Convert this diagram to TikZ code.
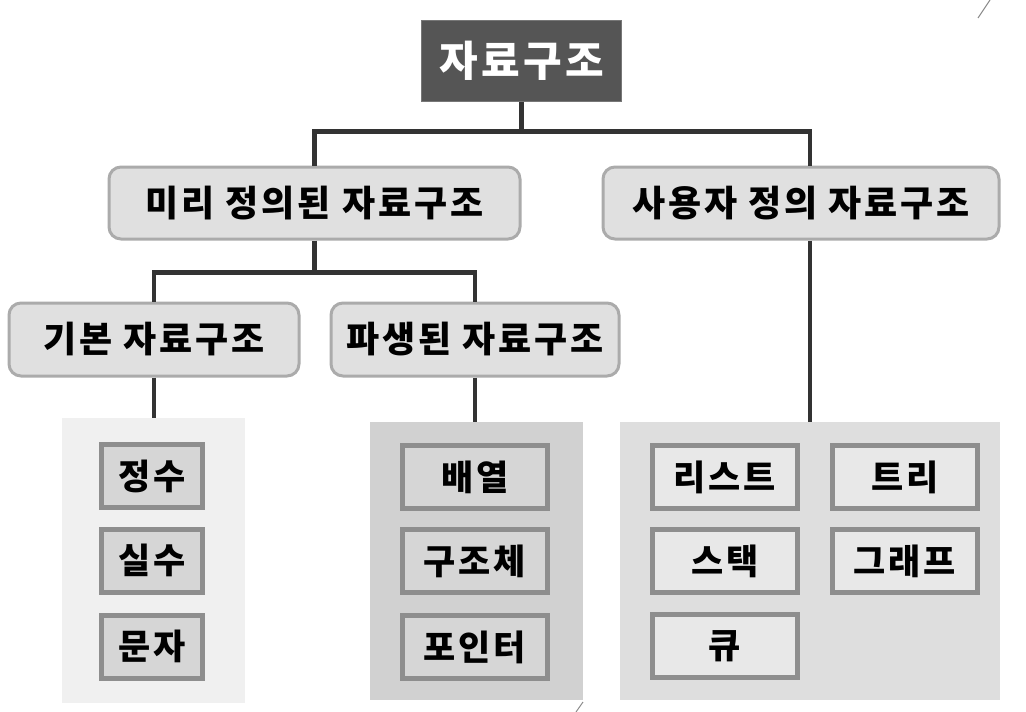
\documentclass[tikz,border=0pt]{standalone}
\usepackage{fontspec}
\setmainfont{Noto Sans CJK KR}[LetterSpace=8]
\usepackage{xcolor}
\usetikzlibrary{positioning}

\definecolor{titlegray}{HTML}{555555}
\definecolor{linegray}{HTML}{333333}
\definecolor{catfill}{HTML}{E0E0E0}
\definecolor{catborder}{HTML}{ABABAB}
\definecolor{itemborder}{HTML}{8E8E8E}

\begin{document}
\begin{tikzpicture}[x=1pt, y=-1pt,
    conn/.style={draw=linegray, line width=4.5pt},
    topbox/.style={fill=titlegray, draw=titlegray!80, text=white, inner sep=0pt,
        minimum width=200pt, minimum height=81pt,
        font=\fontsize{42}{46}\selectfont\bfseries},
    catbox/.style={rounded corners=12pt, draw=catborder, line width=3pt, fill=catfill,
        inner sep=0pt, minimum height=72pt,
        font=\fontsize{36}{40}\selectfont\bfseries},
    panel/.style={inner sep=0pt},
    itembox/.style={draw=itemborder, line width=5pt, inner sep=0pt,
        minimum height=63pt, font=\fontsize{35}{40}\selectfont\bfseries}
]
    \useasboundingbox (0,0) rectangle (1026,712);
    \fill[white] (0,0) rectangle (1026,712);

    % Root
    \node[topbox] (root) at (521.5,61) {자료구조};

    % First level
    \node[catbox, minimum width=411pt] (predef) at (314.5,203) {미리 정의된 자료구조};
    \node[catbox, minimum width=396pt] (userdef) at (801,203) {사용자 정의 자료구조};

    % Second level
    \node[catbox, minimum width=290pt, minimum height=73pt] (basic) at (154,339.5) {기본 자료구조};
    \node[catbox, minimum width=288pt, minimum height=73pt] (derived) at (475,339.5) {파생된 자료구조};

    % Panels
    \node[panel, fill=black!6, minimum width=183pt, minimum height=285pt] (pbasic) at (153.5,560.5) {};
    \node[panel, fill=black!18, minimum width=213pt, minimum height=278pt] (pderived) at (476.5,561) {};
    \node[panel, fill=black!13, minimum width=380pt, minimum height=278pt] (puser) at (810,561) {};

    % Items: basic types
    \node[itembox, fill=black!16, minimum width=101pt] (int) at (152,476) {정수};
    \node[itembox, fill=black!16, minimum width=101pt] (real) at (152,560.5) {실수};
    \node[itembox, fill=black!16, minimum width=101pt] (char) at (152,646.5) {문자};

    % Items: derived types
    \node[itembox, fill=black!16, minimum width=145pt] (array) at (475,477) {배열};
    \node[itembox, fill=black!16, minimum width=145pt] (struct) at (475,561) {구조체};
    \node[itembox, fill=black!16, minimum width=145pt] (pointer) at (475,647) {포인터};

    % Items: user-defined types
    \node[itembox, fill=black!9, minimum width=145pt] (list) at (725,477) {리스트};
    \node[itembox, fill=black!9, minimum width=145pt] (tree) at (905,477) {트리};
    \node[itembox, fill=black!9, minimum width=145pt] (stack) at (725,561) {스택};
    \node[itembox, fill=black!9, minimum width=145pt] (graph) at (905,561) {그래프};
    \node[itembox, fill=black!9, minimum width=145pt] (queue) at (725,646) {큐};

    % Connectors
    \draw[conn] (root.south) -- ++(0,30) coordinate (j0);
    \draw[conn] (predef.north) |- (j0) -| (puser.north |- userdef.north);
    \draw[conn] (puser.north |- userdef.south) -- (puser.north);
    \draw[conn] (predef.south) -- ++(0,32) coordinate (j1);
    \draw[conn] (basic.north) |- (j1) -| (derived.north);
    \draw[conn] (basic.south) -- (pbasic.north -| basic.south);
    \draw[conn] (derived.south) -- (pderived.north -| derived.south);

    % stray marks
    \draw[black!45, line width=1pt] (990,0) -- (978,18);
    \draw[black!45, line width=1pt] (583,702) -- (576,712);
\end{tikzpicture}
\end{document}
